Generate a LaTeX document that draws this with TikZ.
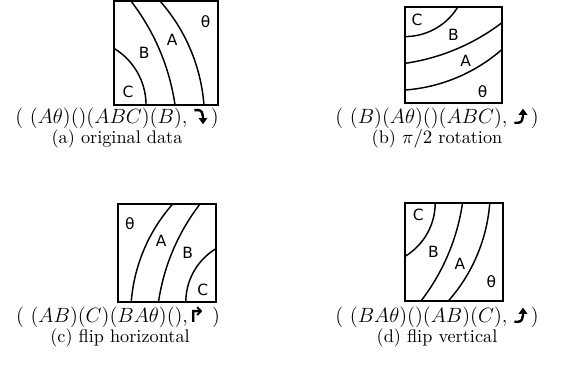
\documentclass[tikz,border=0pt]{standalone}
\usepackage{fontspec}
\usetikzlibrary{arrows.meta}
\newfontfamily\boxfont{DejaVu Sans}
\newfontfamily\arrowfont{DejaVu Sans}
\tikzset{
  frame/.style={line width=1.2pt},
  curve/.style={line width=0.85pt},
  lbl/.style={font=\boxfont\fontsize{9}{10}\selectfont, inner sep=0pt},
  tuple/.style={inner sep=0pt, font=\fontsize{12}{14}\selectfont},
  captxt/.style={inner sep=0pt, font=\fontsize{10.6}{12}\selectfont},
  glyph/.style={line width=1.4pt, -{Triangle[length=3.6pt,width=5pt]}},
}
\newcommand\arrDR{\tikz[baseline=0pt,x=1pt,y=1pt]{\draw[glyph] (0,7.6) -- (2.3,7.6) to[out=0,in=90] (5,3.8) -- (5,-0.6);}}
\newcommand\arrUR{\tikz[baseline=0pt,x=1pt,y=1pt]{\draw[glyph] (0,0.4) -- (2.3,0.4) to[out=0,in=-90] (5,4.2) -- (5,8.6);}}
\newcommand\arr[1]{{\arrowfont\bfseries #1}}
\newcommand\boxcontents[1]{%
  \draw[frame] (0,0) rectangle (1,1);
  \draw[curve] plot[domain=0:59, samples=30] ({-.327+.635*cos(\x)}, {1-.635*sin(\x)});
  \draw[curve] plot[domain=8.3:37.65, samples=30] ({-1.5345+2.144*cos(\x)}, {1.3096-2.144*sin(\x)});
  \draw[curve] plot[domain=4.37:41.5, samples=30] ({-.8353+1.7053*cos(\x)}, {1.1298-1.7053*sin(\x)});
  \node[lbl] (#1t) at (.88,.2) {θ};
  \node[lbl] (#1A) at (.56,.375) {A};
  \node[lbl] (#1B) at (.29,.5) {B};
  \node[lbl] (#1C) at (.135,.875) {C};
}
\begin{document}
\begin{tikzpicture}[x=0.5814pt,y=-0.5814pt]
\useasboundingbox (0,0) rectangle (575,371);
% (a) original
\begin{scope}[shift={(114,1)}, x={(104*0.5814pt,0pt)}, y={(0pt,-104*0.5814pt)}]
  \boxcontents{a}
\end{scope}
% (b) rotation: (u,v) -> (1-v,u)
\begin{scope}[shift={(502,7)}, x={(0pt,-96*0.5814pt)}, y={(-97*0.5814pt,0pt)}]
  \boxcontents{b}
\end{scope}
% (c) flip horizontal: (u,v) -> (1-u,v)
\begin{scope}[shift={(216,204)}, x={(-98*0.5814pt,0pt)}, y={(0pt,-98*0.5814pt)}]
  \boxcontents{c}
\end{scope}
% (d) flip vertical: (u,v) -> (u,1-v)
\begin{scope}[shift={(405,301)}, x={(98*0.5814pt,0pt)}, y={(0pt,98*0.5814pt)}]
  \boxcontents{d}
\end{scope}
\node[tuple] (ta) at (117,118) {$(\ (A\theta)()(ABC)(B),\;$\arrDR$\,)$};
\node[captxt] (ca) at (117,139) {(a) original data};
\node[tuple] (tb) at (437,118) {$(\ (B)(A\theta)()(ABC),\;$\arrUR$\,)$};
\node[captxt] (cb) at (437,139) {(b) $\pi/2$ rotation};
\node[tuple] (tc) at (118,317) {$(\ (AB)(C)(BA\theta)(),$\arr{↱}\ $)$};
\node[captxt] (cc) at (120,338) {(c) flip horizontal};
\node[tuple] (td) at (437,317) {$(\ (BA\theta)()(AB)(C),\;$\arrUR$\,)$};
\node[captxt] (cd) at (437,338) {(d) flip vertical};
\end{tikzpicture}
\end{document}
